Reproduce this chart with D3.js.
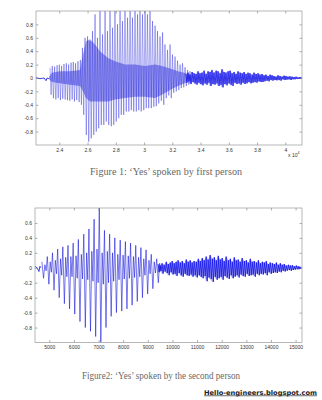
<!DOCTYPE html>
<html><head><meta charset="utf-8">
<script src="https://cdn.jsdelivr.net/npm/d3@7"></script>
<style>body{margin:0;background:#fff}svg{display:block}</style>
</head><body>
<svg id="c" width="322" height="400"></svg>
<script>
// ---------- Figure 1 data (sample index, amplitude) ----------
const p1SilenceT = [22350,22630,22920,23060,23130,23270];
const p1SilenceV = [0.005,-0.01,0.0,-0.04,0.0,-0.01];
const p1PulseT = [23340,23500,23670,23840,24000,24160,24330,24500,24660,24830,24990,25150,25320,25490,
  25640,25820,26000,26170,26350,26530,26700,26880,27060,27240,27410,27590,27770,27940,28120,28300,28470,
  28650,28830,29010,29180,29360,29540,29710,29890,30070,30240,30420,30600,30780,30950,31130,31310,31480,
  31660,31840,32010,32190,32370,32550,32720,32900,33080,33250];
const p1PulseHi = [0.15,0.18,0.17,0.19,0.2,0.18,0.21,0.22,0.2,0.23,0.24,0.22,0.25,0.27,
  0.45,0.6,0.62,0.55,0.7,0.95,0.6,1.0,0.65,1.0,0.7,1.0,0.75,1.0,0.8,1.0,0.85,1.0,0.9,1.0,0.9,1.0,0.95,1.0,
  0.95,1.0,0.95,1.0,0.85,0.78,0.7,0.62,0.68,0.5,0.42,0.5,0.35,0.32,0.26,0.2,0.22,0.16,0.12,0.1];
const p1PulseLo = [-0.25,-0.3,-0.32,-0.3,-0.33,-0.31,-0.32,-0.33,-0.34,-0.32,-0.35,-0.33,-0.36,-0.4,
  -0.55,-0.85,-0.95,-0.9,-0.85,-0.8,-0.75,-0.7,-0.7,-0.65,-0.7,-0.72,-0.7,-0.65,-0.6,-0.55,-0.55,-0.5,-0.5,
  -0.48,-0.5,-0.5,-0.48,-0.5,-0.48,-0.45,-0.45,-0.45,-0.43,-0.42,-0.38,-0.34,-0.4,-0.3,-0.26,-0.3,-0.22,
  -0.2,-0.18,-0.15,-0.14,-0.12,-0.1,-0.08];
const p1CoreT  = [23270,23480,24050,24760,25470,25680,25890,26170,26530,26880,27450,27940,28650,29360,30070,30780,31270,31840,32400,32970];
const p1CoreHi = [0.02,0.08,0.1,0.1,0.12,0.35,0.55,0.58,0.5,0.4,0.3,0.25,0.2,0.2,0.18,0.2,0.18,0.14,0.1,0.07];
const p1CoreLo = [-0.02,-0.06,-0.08,-0.1,-0.12,-0.2,-0.3,-0.35,-0.35,-0.35,-0.35,-0.32,-0.3,-0.28,-0.28,-0.3,-0.25,-0.18,-0.12,-0.07];
const p1NoiseT  = [32970,33110,33250,33400,33540,33680,33820,33960,34100,34250,
  34390,34530,34670,34810,34950,35100,35240,35380,35520,35660,
  35800,35950,36090,36230,36370,36510,36650,36800,36940,37080,
  37220,37360,37500,37650,37780,37930,38070,38210,38350,38490,
  38630,38780,38920,39060,39200,39340,39480,39630,39770,39910,
  40050,40190,40330,40480,40620,40760,40900,41040,41180];
const p1NoiseHi = [0.06,0.08,0.05,0.09,0.07,0.06,0.1,0.07,0.08,0.11,
  0.06,0.1,0.09,0.12,0.08,0.11,0.1,0.07,0.13,0.09,
  0.08,0.1,0.11,0.07,0.09,0.06,0.1,0.08,0.07,0.09,
  0.06,0.08,0.07,0.05,0.08,0.06,0.07,0.05,0.06,0.04,
  0.05,0.03,0.05,0.04,0.03,0.02,0.04,0.03,0.02,0.035,
  0.03,0.02,0.025,0.02,0.015,0.02,0.01,0.015,0.01];
const p1NoiseLo = [-0.07,-0.05,-0.09,-0.06,-0.08,-0.1,-0.07,-0.09,-0.11,-0.08,
  -0.1,-0.07,-0.12,-0.09,-0.1,-0.08,-0.12,-0.1,-0.14,-0.09,
  -0.11,-0.08,-0.1,-0.12,-0.07,-0.09,-0.08,-0.1,-0.07,-0.09,
  -0.08,-0.06,-0.08,-0.07,-0.06,-0.07,-0.05,-0.06,-0.06,-0.05,
  -0.04,-0.05,-0.03,-0.04,-0.03,-0.035,-0.03,-0.04,-0.02,-0.03,
  -0.025,-0.02,-0.03,-0.02,-0.02,-0.015,-0.015,-0.01,-0.01];
const p1XTicks = [24000,26000,28000,30000,32000,34000,36000,38000,40000];
const p1XTickLabels = ["2.4","2.6","2.8","3","3.2","3.4","3.6","3.8","4"];
const p1YTicks = [-0.8,-0.6,-0.4,-0.2,0,0.2,0.4,0.6,0.8];
const p1YTickLabels = ["-0.8","-0.6","-0.4","-0.2","0","0.2","0.4","0.6","0.8"];

// ---------- Figure 2 data ----------
const p2SilenceT = [4420,4500,4580,4620,4660];
const p2SilenceV = [0.02,0.0,-0.05,0.02,0.0];
const p2PulseT  = [4700,4920,5130,5340,5550,5760,5970,6180,6400,6610,6820,7030,7240,7450,7660,7880,8090,8300,8510,8720,8930,9140,9360];
const p2PulseHi = [0.08,0.15,0.2,0.25,0.28,0.3,0.33,0.38,0.45,0.52,0.65,0.8,0.5,0.45,0.4,0.37,0.35,0.33,0.3,0.27,0.24,0.18,0.12];
const p2PulseLo = [-0.14,-0.22,-0.3,-0.4,-0.48,-0.55,-0.62,-0.72,-0.8,-0.85,-0.92,-1.0,-0.8,-0.65,-0.6,-0.58,-0.55,-0.5,-0.45,-0.4,-0.35,-0.28,-0.2];
const p2PulseMid = [0.04,0.08,0.1,0.12,0.14,0.15,0.16,0.18,0.2,0.22,0.25,0.2,0.22,0.2,0.18,0.17,0.16,0.15,0.14,0.12,0.1,0.08,0.06];
const p2PulseSub = [-0.04,-0.06,-0.08,-0.1,-0.12,-0.12,-0.14,-0.15,-0.16,-0.18,-0.2,-0.22,-0.2,-0.18,-0.16,-0.15,-0.14,-0.13,-0.12,-0.1,-0.08,-0.07,-0.05];
const p2NoiseT  = [9420,9500,9580,9660,9750,9830,9910,9990,10070,10150,
  10230,10320,10400,10480,10560,10640,10720,10800,10880,10970,
  11050,11130,11210,11290,11370,11450,11530,11620,11700,11780,
  11860,11940,12020,12100,12180,12270,12350,12430,12510,12590,
  12670,12750,12830,12920,13000,13080,13160,13240,13320,13410,
  13490,13570,13650,13730,13810,13890,13970,14060,14140,14220,
  14300,14380,14460,14540,14620,14710,14790,14870,14950,15030,
  15110,15170,15230];
const p2NoiseHi = [0.05,0.03,0.06,0.04,0.08,0.05,0.07,0.09,0.06,0.08,
  0.1,0.07,0.09,0.06,0.11,0.08,0.1,0.07,0.09,0.08,
  0.12,0.09,0.13,0.1,0.15,0.11,0.17,0.12,0.14,0.1,
  0.16,0.11,0.13,0.09,0.15,0.1,0.12,0.08,0.14,0.1,
  0.11,0.08,0.13,0.09,0.1,0.07,0.12,0.08,0.09,0.07,
  0.1,0.06,0.08,0.07,0.09,0.05,0.07,0.06,0.05,0.07,
  0.04,0.06,0.04,0.05,0.03,0.04,0.03,0.035,0.02,0.03,
  0.02,0.015,0.01];
const p2NoiseLo = [-0.06,-0.04,-0.08,-0.05,-0.07,-0.1,-0.06,-0.09,-0.08,-0.11,
  -0.07,-0.1,-0.12,-0.08,-0.1,-0.11,-0.09,-0.12,-0.1,-0.13,
  -0.1,-0.12,-0.14,-0.11,-0.18,-0.13,-0.15,-0.19,-0.12,-0.16,
  -0.14,-0.12,-0.16,-0.11,-0.13,-0.15,-0.1,-0.14,-0.12,-0.1,
  -0.13,-0.09,-0.11,-0.12,-0.08,-0.11,-0.1,-0.09,-0.12,-0.08,
  -0.1,-0.08,-0.09,-0.07,-0.1,-0.06,-0.08,-0.07,-0.06,-0.07,
  -0.05,-0.06,-0.04,-0.05,-0.04,-0.03,-0.04,-0.03,-0.025,-0.02,
  -0.02,-0.015,-0.01];
const p2XTicks = [5000,6000,7000,8000,9000,10000,11000,12000,13000,14000,15000];
const p2XTickLabels = ["5000","6000","7000","8000","9000","10000","11000","12000","13000","14000","15000"];
const p2YTicks = [-0.8,-0.6,-0.4,-0.2,0,0.2,0.4,0.6];
const p2YTickLabels = ["-0.8","-0.6","-0.4","-0.2","0","0.2","0.4","0.6"];

const caption1 = "Figure 1: \u2018Yes\u2019 spoken by first person";
const caption2 = "Figure2: \u2018Yes\u2019 spoken by the second person";
const siteLabel = "Hello-engineers.blogspot.com";

// ---------- drawing ----------
const svg = d3.select("#c");
const WAVE = "#1010d8";

function drawPlot(id, box, xDom, yDom, d) {
  const x = d3.scaleLinear().domain(xDom).range([box.l, box.r]);
  const y = d3.scaleLinear().domain(yDom).range([box.b, box.t]);
  svg.append("clipPath").attr("id", id).append("rect")
    .attr("x", box.l).attr("y", box.t).attr("width", box.r - box.l).attr("height", box.b - box.t);
  const g = svg.append("g").attr("clip-path", `url(#${id})`);
  const line = d3.line().x(p => x(p[0])).y(p => y(p[1]));

  // dense core (overlapping cycles)
  if (d.coreT) {
    const core = d.coreT.map((t, i) => ({t, hi: d.coreHi[i], lo: d.coreLo[i]}));
    g.append("path").datum(core)
      .attr("d", d3.area().x(p => x(p.t)).y0(p => y(p.lo)).y1(p => y(p.hi)))
      .attr("fill", WAVE).attr("opacity", 0.4);
  }
  // pitch pulses as a zig-zag
  const pts = [];
  d.pulseT.forEach((t, i) => {
    const dt = (i < d.pulseT.length - 1 ? d.pulseT[i + 1] : t + (t - d.pulseT[i - 1])) - t;
    pts.push([t, d.pulseHi[i]]);
    if (d.pulseMid) {
      pts.push([t + 0.3 * dt, d.pulseLo[i]]);
      pts.push([t + 0.55 * dt, d.pulseMid[i]]);
      pts.push([t + 0.78 * dt, d.pulseSub[i]]);
    } else {
      pts.push([t + 0.5 * dt, d.pulseLo[i]]);
    }
  });
  g.append("path").attr("d", line(pts)).attr("fill", "none")
    .attr("stroke", WAVE).attr("stroke-width", d.pulseW).attr("opacity", d.pulseOp);

  // unvoiced noise band
  const noise = d.noiseT.map((t, i) => ({t, hi: d.noiseHi[i], lo: d.noiseLo[i]}));
  g.append("path").datum(noise)
    .attr("d", d3.area().x(p => x(p.t)).y0(p => y(p.lo)).y1(p => y(p.hi)))
    .attr("fill", WAVE).attr("opacity", 0.3);
  const zz = [];
  d.noiseT.forEach((t, i) => {
    const dt = i < d.noiseT.length - 1 ? d.noiseT[i + 1] - t : 0;
    zz.push([t, d.noiseHi[i]]);
    if (dt) zz.push([t + 0.5 * dt, d.noiseLo[i]]);
  });
  g.append("path").attr("d", line(zz)).attr("fill", "none")
    .attr("stroke", "#0808e8").attr("stroke-width", 0.75);

  // leading silence
  g.append("path").attr("d", line(d.silT.map((t, i) => [t, d.silV[i]])))
    .attr("fill", "none").attr("stroke", WAVE).attr("stroke-width", 0.8);

  // axes (MATLAB style: box with inward ticks on all sides)
  const tk = 2.5;
  const style = sel => {
    sel.select(".domain").remove();
    sel.selectAll(".tick line").attr("stroke", "#777").attr("stroke-width", 0.6);
    sel.selectAll(".tick text").attr("fill", "#333").attr("font-family", "Liberation Sans, Arial, sans-serif")
      .attr("font-size", 5);
  };
  svg.append("g").attr("transform", `translate(0,${box.b})`)
    .call(d3.axisBottom(x).tickValues(d.xTicks).tickFormat((v, i) => d.xLabels[i]).tickSizeInner(-tk).tickSizeOuter(0).tickPadding(3))
    .call(style);
  svg.append("g").attr("transform", `translate(0,${box.t})`)
    .call(d3.axisTop(x).tickValues(d.xTicks).tickFormat("").tickSizeInner(-tk).tickSizeOuter(0))
    .call(style);
  svg.append("g").attr("transform", `translate(${box.l},0)`)
    .call(d3.axisLeft(y).tickValues(d.yTicks).tickFormat((v, i) => d.yLabels[i]).tickSizeInner(-tk).tickSizeOuter(0).tickPadding(3))
    .call(style);
  svg.append("g").attr("transform", `translate(${box.r},0)`)
    .call(d3.axisRight(y).tickValues(d.yTicks).tickFormat("").tickSizeInner(-tk).tickSizeOuter(0))
    .call(style);
  svg.append("rect").attr("x", box.l).attr("y", box.t).attr("width", box.r - box.l).attr("height", box.b - box.t)
    .attr("fill", "none").attr("stroke", "#999").attr("stroke-width", 0.7);
}

drawPlot("clip1", {l: 36, r: 302, t: 11, b: 145}, [22350, 41180], [-1, 1], {
  silT: p1SilenceT, silV: p1SilenceV,
  pulseT: p1PulseT, pulseHi: p1PulseHi, pulseLo: p1PulseLo, pulseW: 0.5, pulseOp: 0.7,
  coreT: p1CoreT, coreHi: p1CoreHi, coreLo: p1CoreLo,
  noiseT: p1NoiseT, noiseHi: p1NoiseHi, noiseLo: p1NoiseLo,
  xTicks: p1XTicks, xLabels: p1XTickLabels, yTicks: p1YTicks, yLabels: p1YTickLabels
});
drawPlot("clip2", {l: 35, r: 302, t: 208, b: 342.5}, [4420, 15260], [-1, 0.8], {
  silT: p2SilenceT, silV: p2SilenceV,
  pulseT: p2PulseT, pulseHi: p2PulseHi, pulseLo: p2PulseLo, pulseMid: p2PulseMid, pulseSub: p2PulseSub,
  pulseW: 0.7, pulseOp: 0.8,
  noiseT: p2NoiseT, noiseHi: p2NoiseHi, noiseLo: p2NoiseLo,
  xTicks: p2XTicks, xLabels: p2XTickLabels, yTicks: p2YTicks, yLabels: p2YTickLabels
});

// exponent label of figure 1
const ex = svg.append("text").attr("x", 288).attr("y", 156.5)
  .attr("font-family", "Liberation Sans, Arial, sans-serif").attr("font-size", 5).attr("fill", "#333");
ex.append("tspan").text("x 10");
ex.append("tspan").attr("dy", -2.5).attr("font-size", 3.6).text("4");

// captions
svg.append("text").attr("x", 166).attr("y", 174.5).attr("text-anchor", "middle")
  .attr("font-family", "Liberation Serif, Times New Roman, serif").attr("font-size", 9.5).attr("fill", "#666")
  .attr("textLength", 152).attr("lengthAdjust", "spacingAndGlyphs").text(caption1);
svg.append("text").attr("x", 161).attr("y", 378.5).attr("text-anchor", "middle")
  .attr("font-family", "Liberation Serif, Times New Roman, serif").attr("font-size", 9.5).attr("fill", "#666")
  .attr("textLength", 158).attr("lengthAdjust", "spacingAndGlyphs").text(caption2);
svg.append("text").attr("x", 204).attr("y", 394.5)
  .attr("font-family", "DejaVu Sans, Verdana, sans-serif").attr("font-size", 6.6).attr("font-weight", "bold")
  .attr("fill", "#222").attr("text-decoration", "underline")
  .attr("textLength", 113).attr("lengthAdjust", "spacingAndGlyphs").text(siteLabel);
</script>
</body></html>
